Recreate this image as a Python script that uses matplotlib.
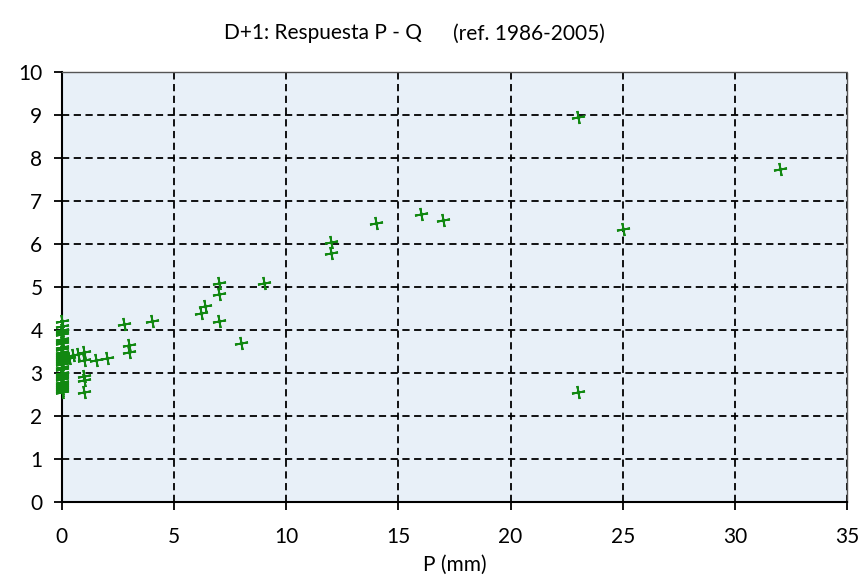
import numpy as np
import matplotlib.pyplot as plt

# P (mm) vs Q response, D+1
p_zero = [0] * 29
q_zero = [4.2, 4.1, 4.0, 3.95, 3.9, 3.8, 3.75, 3.7, 3.6, 3.55, 3.5, 3.45, 3.4, 3.35,
          3.3, 3.25, 3.2, 3.15, 3.1, 3.0, 2.95, 2.9, 2.85, 2.8, 2.75, 2.7, 2.65, 2.6, 2.55]

p_rest = [0.3, 0.5, 0.7, 1, 1, 1, 1, 1, 1.5, 2, 2.75, 3, 3, 4,
          6.2, 6.4, 7, 7, 7, 8, 9, 12, 12, 14, 16, 17, 23, 23, 25, 32]
q_rest = [3.35, 3.43, 3.45, 3.48, 3.3, 2.93, 2.84, 2.57, 3.3, 3.35, 4.13, 3.65, 3.5, 4.2,
          4.4, 4.55, 5.1, 4.85, 4.2, 3.71, 5.1, 6.05, 5.8, 6.5, 6.7, 6.55, 8.95, 2.55, 6.35, 7.75]

x_ticks = [0, 5, 10, 15, 20, 25, 30, 35]
y_ticks = list(range(0, 11))

plt.rcParams['font.family'] = ['Lato', 'DejaVu Sans']

fig = plt.figure(figsize=(8.6, 5.77), dpi=100)
ax = fig.add_axes([0.072, 0.130, 0.913, 0.745])
ax.set_facecolor('#e8f0f8')

p_all = p_zero + p_rest
q_all = q_zero + q_rest
ax.plot(p_all, q_all, linestyle='none', marker=(4, 2, 10), markersize=9.5,
        markeredgewidth=1.4, color='#118811', clip_on=False, zorder=3)

ax.set_xlim(0, 35)
ax.set_ylim(0, 10)
ax.set_xticks(x_ticks)
ax.set_yticks(y_ticks)
ax.grid(True, color='black', linestyle=(0, (4, 2.5)), linewidth=1.3)
ax.set_axisbelow(True)

for s in ['left', 'bottom']:
    ax.spines[s].set_linewidth(1.5)
    ax.spines[s].set_color('black')
for s in ['top', 'right']:
    ax.spines[s].set_linestyle((0, (1, 1)))
    ax.spines[s].set_linewidth(1.0)
    ax.spines[s].set_color('#555555')

ax.tick_params(axis='both', direction='out', length=6, width=1.3, labelsize=15, pad=8)
ax.tick_params(axis='x', pad=12)

ax.set_xlabel('P (mm)', fontsize=15, labelpad=6)

fig.text(0.375, 0.942, 'D+1: Respuesta P - Q', fontsize=15, ha='center', va='center')
fig.text(0.615, 0.942, '(ref. 1986-2005)', fontsize=15, ha='center', va='center')

fig.savefig('out.png', dpi=100)
